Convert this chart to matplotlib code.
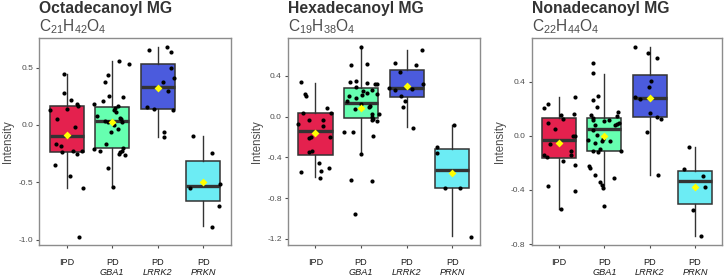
import matplotlib
matplotlib.use("Agg")
import matplotlib.pyplot as plt

plt.rcParams["font.family"] = ["Liberation Sans", "DejaVu Sans"]
plt.rcParams["mathtext.fontset"] = "custom"
plt.rcParams["mathtext.rm"] = "Liberation Sans"

GROUPS_TOP = ["IPD", "PD", "PD", "PD"]
GROUPS_BOTTOM = ["", "GBA1", "LRRK2", "PRKN"]
COLORS = ["#E4214E", "#66FFB0", "#4B5BDD", "#6CECF4"]

# box stats per group: (whislo, q1, med, q3, whishi, mean)
OCT_STATS = [(-0.55, -0.238, -0.093, 0.168, 0.444, -0.087),
             (-0.537, -0.203, 0.035, 0.16, 0.557, 0.023),
             (-0.102, 0.137, 0.334, 0.531, 0.677, 0.32),
             (-0.883, -0.662, -0.528, -0.311, -0.096, -0.493)]
HEX_STATS = [(-0.595, -0.379, -0.143, 0.039, 0.334, -0.163),
             (-0.369, -0.016, 0.131, 0.278, 0.694, 0.082),
             (-0.104, 0.193, 0.279, 0.461, 0.652, 0.301),
             (-1.174, -0.703, -0.526, -0.314, -0.081, -0.55)]
NON_STATS = [(-0.539, -0.165, -0.032, 0.131, 0.283, -0.056),
             (-0.388, -0.115, 0.047, 0.133, 0.458, 0.0),
             (-0.29, 0.136, 0.278, 0.446, 0.652, 0.278),
             (-0.743, -0.506, -0.334, -0.258, -0.083, -0.381)]

# jittered observations: horizontal jitter and intensity
OCT_IPD_JIT = [-0.05, -0.05, 0.09, 0.22, 0.24, -0.36, 0.01, -0.21, 0.19, -0.24, -0.12, -0.11, 0.15, 0.23, 0.34, -0.26, 0.07, 0.36, 0.28]
OCT_IPD_Y = [0.444, 0.276, 0.22, 0.18, 0.168, 0.131, 0.137, 0.05, -0.02, -0.168, -0.18, -0.232, -0.224, -0.253, -0.226, -0.348, -0.441, -0.552, -0.973]
OCT_GBA1_JIT = [0.14, 0.36, -0.10, -0.15, -0.08, 0.23, -0.21, -0.39, 0.12, 0.07, -0.34, 0.08, 0.18, -0.15, -0.09, 0.21, 0.03, 0.12, -0.02, -0.14, -0.40, -0.26, 0.24, 0.21, 0.17, 0.14, 0.29, -0.10, 0.01, 0.19, 0.05]
OCT_GBA1_Y = [0.56, 0.529, 0.435, 0.377, 0.255, 0.241, 0.212, 0.18, 0.168, 0.151, 0.078, 0.11, 0.064, 0.035, 0.023, 0.029, 0.0, -0.035, -0.058, -0.166, -0.209, -0.226, -0.203, -0.224, -0.238, -0.253, -0.261, -0.372, -0.54, 0.05, 0.13]
OCT_LRRK2_JIT = [-0.19, 0.20, 0.28, 0.29, 0.35, 0.12, 0.22, -0.23, -0.09, 0.33, 0.14, 0.14]
OCT_LRRK2_Y = [0.656, 0.679, 0.639, 0.499, 0.412, 0.372, 0.296, 0.154, 0.139, 0.128, -0.064, -0.105]
OCT_PRKN_JIT = [-0.23, 0.19, 0.36, -0.29, 0.34, 0.19]
OCT_PRKN_Y = [-0.093, -0.241, -0.514, -0.552, -0.703, -0.886]

HEX_IPD_JIT = [-0.31, -0.23, -0.21, -0.28, 0.26, 0.35, -0.37, -0.14, 0.17, 0.16, -0.13, -0.10, 0.32, -0.14, -0.07, 0.07, -0.31, 0.13, 0.30, 0.10]
HEX_IPD_Y = [0.341, 0.22, 0.206, 0.039, 0.088, 0.039, -0.072, -0.029, -0.029, -0.088, -0.209, -0.202, -0.196, -0.349, -0.337, -0.457, -0.54, -0.536, -0.506, -0.599]
HEX_GBA1_JIT = [0.01, -0.21, 0.12, -0.24, -0.11, 0.13, 0.31, 0.34, -0.10, 0.25, 0.04, 0.14, -0.26, -0.12, 0.02, 0.34, -0.30, -0.01, -0.13, 0.18, 0.20, 0.23, 0.39, 0.23, 0.27, 0.25, 0.36, -0.37, -0.17, 0.27, 0.01, -0.21, 0.23, -0.14]
HEX_GBA1_Y = [0.687, 0.507, 0.52, 0.341, 0.347, 0.334, 0.324, 0.318, 0.291, 0.259, 0.252, 0.23, 0.206, 0.186, 0.213, 0.226, 0.151, 0.128, 0.076, 0.092, 0.102, 0.024, 0.024, 0.0, -0.023, -0.032, -0.045, -0.147, -0.15, -0.192, -0.369, -0.618, -0.628, -0.952]
HEX_LRRK2_JIT = [0.34, -0.26, 0.20, -0.14, 0.35, -0.39, -0.26, 0.12, -0.12, -0.04, -0.07, 0.14]
HEX_LRRK2_Y = [0.658, 0.53, 0.51, 0.439, 0.318, 0.285, 0.262, 0.269, 0.206, 0.157, 0.098, -0.108]
HEX_PRKN_JIT = [0.04, -0.33, -0.33, -0.15, 0.16, 0.40]
HEX_PRKN_Y = [-0.081, -0.297, -0.353, -0.703, -0.703, -1.178]

NON_IPD_JIT = [-0.33, -0.23, 0.36, 0.04, 0.09, -0.24, 0.33, -0.08, -0.19, 0.32, 0.35, -0.32, -0.26, 0.27, 0.26, 0.10, 0.36, -0.25, 0.36, 0.04]
NON_IPD_Y = [0.207, 0.236, 0.286, 0.155, 0.123, 0.092, 0.158, 0.049, -0.063, 0.0, 0.0, -0.142, -0.155, -0.113, -0.142, -0.184, -0.216, -0.373, -0.406, -0.541]
NON_GBA1_JIT = [-0.25, -0.24, -0.14, -0.25, -0.17, -0.30, -0.24, -0.25, 0.0, 0.11, 0.31, 0.23, 0.28, -0.21, -0.26, -0.35, -0.20, -0.04, -0.02, 0.12, -0.17, -0.25, -0.14, -0.10, -0.33, -0.31, -0.20, 0.22, -0.09, -0.05, -0.03, 0.0, 0.27, 0.36, 0.33]
NON_GBA1_Y = [0.539, 0.465, 0.293, 0.263, 0.21, 0.155, 0.128, 0.115, 0.108, 0.118, 0.177, 0.077, 0.084, 0.079, 0.04, -0.03, -0.056, -0.039, -0.024, -0.039, 0.005, -0.113, -0.118, -0.098, -0.226, -0.241, -0.29, -0.31, -0.344, -0.364, -0.384, -0.517, 0.145, -0.111, 0.09]
NON_LRRK2_JIT = [-0.33, -0.03, 0.16, 0.03, -0.01, -0.32, -0.21, 0.01, 0.16, 0.24, -0.07, 0.19]
NON_LRRK2_Y = [0.655, 0.608, 0.573, 0.406, 0.357, 0.283, 0.271, 0.17, 0.14, 0.125, 0.03, -0.292]
NON_PRKN_JIT = [-0.13, -0.25, 0.18, 0.21, -0.04, 0.12]
NON_PRKN_Y = [-0.081, -0.246, -0.295, -0.379, -0.548, -0.743]

PANELS = [
    dict(title="Octadecanoyl MG", formula=r"C$_\mathregular{21}$H$_\mathregular{42}$O$_\mathregular{4}$",
         stats=OCT_STATS,
         jit=[OCT_IPD_JIT, OCT_GBA1_JIT, OCT_LRRK2_JIT, OCT_PRKN_JIT],
         ys=[OCT_IPD_Y, OCT_GBA1_Y, OCT_LRRK2_Y, OCT_PRKN_Y],
         yticks=[-1.0, -0.5, 0.0, 0.5], ylim=(-1.045, 0.755),
         rect=[39.3, 230.7]),
    dict(title="Hexadecanoyl MG", formula=r"C$_\mathregular{19}$H$_\mathregular{38}$O$_\mathregular{4}$",
         stats=HEX_STATS,
         jit=[HEX_IPD_JIT, HEX_GBA1_JIT, HEX_LRRK2_JIT, HEX_PRKN_JIT],
         ys=[HEX_IPD_Y, HEX_GBA1_Y, HEX_LRRK2_Y, HEX_PRKN_Y],
         yticks=[-1.2, -0.8, -0.4, 0.0, 0.4], ylim=(-1.259, 0.769),
         rect=[288.0, 479.7]),
    dict(title="Nonadecanoyl MG", formula=r"C$_\mathregular{22}$H$_\mathregular{44}$O$_\mathregular{4}$",
         stats=NON_STATS,
         jit=[NON_IPD_JIT, NON_GBA1_JIT, NON_LRRK2_JIT, NON_PRKN_JIT],
         ys=[NON_IPD_Y, NON_GBA1_Y, NON_LRRK2_Y, NON_PRKN_Y],
         yticks=[-0.8, -0.4, 0.0, 0.4], ylim=(-0.807, 0.719),
         rect=[531.7, 722.3]),
]

W, H = 725, 277
fig = plt.figure(figsize=(W / 100, H / 100), dpi=100)
top_px, bot_px = 38.3, 245.0
dark = "#333333"
grey = "#4D4D4D"

for p in PANELS:
    x0, x1 = p["rect"]
    ax = fig.add_axes([x0 / W, 1 - bot_px / H, (x1 - x0) / W, (bot_px - top_px) / H])
    pos = list(range(1, len(GROUPS_TOP) + 1))
    stats = []
    for lo, q1, med, q3, hi, mean in p["stats"]:
        stats.append(dict(whislo=lo, q1=q1, med=med, q3=q3, whishi=hi, fliers=[]))
    bp = ax.bxp(stats, positions=pos, widths=0.75, patch_artist=True, showcaps=False,
                boxprops=dict(edgecolor=dark, linewidth=1.1),
                whiskerprops=dict(color=dark, linewidth=1.0),
                medianprops=dict(color=dark, linewidth=2.4, solid_capstyle="butt"))
    for patch, c in zip(bp["boxes"], COLORS):
        patch.set_facecolor(c)
    for i in range(len(pos)):
        xs = [pos[i] + d for d in p["jit"][i]]
        ax.scatter(xs, p["ys"][i], s=9, color="black", zorder=4, linewidths=0)
        ax.scatter([pos[i]], [p["stats"][i][5]], marker="D", s=16, color="#FFFF00",
                   zorder=5, linewidths=0)

    ax.set_xlim(0.4, 4.6)
    ax.set_ylim(*p["ylim"])
    ax.set_yticks(p["yticks"])
    ax.set_yticklabels([f"{t:.1f}" for t in p["yticks"]])
    ax.set_xticks(pos)
    ax.set_xticklabels([])
    ax.tick_params(axis="both", length=2.5, width=0.8, color=grey, labelsize=6,
                   labelcolor=grey, pad=2)
    for s in ax.spines.values():
        s.set_color("#8C8C8C")
        s.set_linewidth(1.0)

    hpx = bot_px - top_px
    for i, x in enumerate(pos):
        ax.text(x, -20.0 / hpx, GROUPS_TOP[i], transform=ax.get_xaxis_transform(),
                ha="center", va="baseline", fontsize=6.6, color="#1A1A1A")
        ax.text(x, -29.8 / hpx, GROUPS_BOTTOM[i], transform=ax.get_xaxis_transform(),
                ha="center", va="baseline", fontsize=6.6, style="italic", color="#1A1A1A")

    ax.text(-31.5 / (x1 - x0), 0.5, "Intensity", transform=ax.transAxes, rotation=90,
            ha="center", va="center", fontsize=8.3, color=grey)

    fig.text(x0 / W, 1 - 13.5 / H, p["title"], fontsize=11.3, fontweight="bold",
             color=dark, ha="left", va="baseline")
    fig.text(x0 / W, 1 - 31.7 / H, p["formula"], fontsize=11.2, color=grey,
             ha="left", va="baseline")

fig.savefig("out.png", dpi=100)
